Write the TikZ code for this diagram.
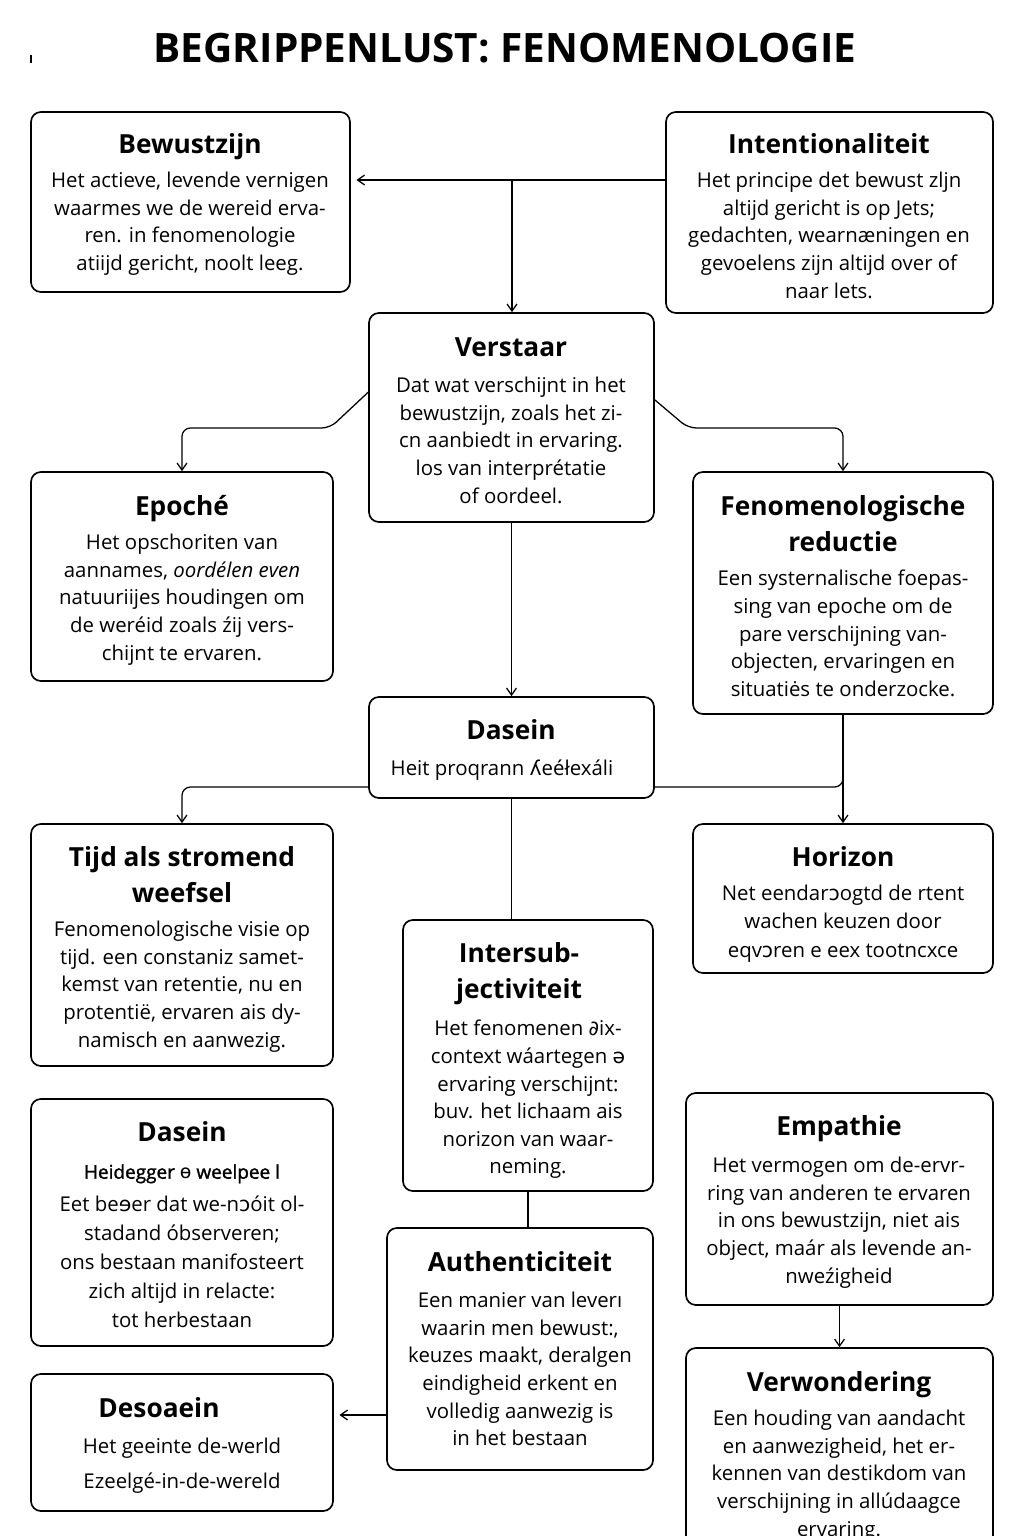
\documentclass[tikz,border=0pt]{standalone}
\usepackage{fontspec}
\setmainfont{Open Sans}
\newfontfamily\dvfont{DejaVu Sans}
\newcommand\dvg[1]{{\dvfont #1}}
\newfontfamily\semifont[FakeBold=1.5]{Open Sans}
\usetikzlibrary{arrows.meta,fit,calc}
\begin{document}
\begin{tikzpicture}[x=0.025cm,y=-0.025cm,
  box/.style={draw, line width=1.2pt, rounded corners=7pt, inner sep=0pt},
  ttl/.style={anchor=north, font=\fontsize{18.7}{25.6}\selectfont\bfseries, align=center, inner sep=0pt},
  bod/.style={anchor=north, font=\fontsize{14.5}{19.6}\selectfont, align=center, inner sep=0pt},
  conn/.style={line width=0.9pt},
  arr/.style={conn, -{Straight Barb[length=5pt,width=7pt]}}]
\useasboundingbox (0,0) rectangle (1024,1536);
\fill[white] (0,0) rectangle (1024,1536);
\draw[line width=0.8pt] (31,55) -- (31,63);
\node[font=\fontsize{28.8}{32}\selectfont\bfseries, anchor=base, inner sep=0pt] (title) at (505,63) {BEGRIPPENLUST: FENOMENOLOGIE};

% boxes
\node[box, fit={(31,112) (350,292)}] (bew) {};
\node[box, fit={(666,112) (993,313)}] (int) {};
\node[box, fit={(369,313) (654,522)}] (ver) {};
\node[box, fit={(31,472) (333,681)}] (epo) {};
\node[box, fit={(693,472) (993,714)}] (fen) {};
\node[box, fit={(369,697) (654,798)}] (das) {};
\node[box, fit={(31,824) (333,1066)}] (tij) {};
\node[box, fit={(693,824) (993,973)}] (hor) {};
\node[box, fit={(403,920) (653,1191)}] (isj) {};
\node[box, fit={(31,1099) (333,1346)}] (dsl) {};
\node[box, fit={(31,1374) (333,1511)}] (des) {};
\node[box, fit={(387,1228) (653,1470)}] (aut) {};
\node[box, fit={(686,1093) (993,1305)}] (emp) {};
\node[box, fit={(686,1348) (993,1560)}] (vw) {};

% texts
\node[ttl] (bewT) at (190,133) {Bewustzijn};
\node[bod] (bewB) at (190,172) {Het actieve, levende vernigen\\waarmes we de wereid erva-\\ren. in fenomenologie\\atiijd gericht, noolt leeg.};

\node[ttl] (intT) at (829,133) {Intentionaliteit};
\node[bod] (intB) at (829,172) {Het principe det bewust zljn\\altijd gericht is op Jets;\\gedachten, wearnæningen en\\gevoelens zijn altijd over of\\naar lets.};

\node[ttl] (verT) at (511,337) {Verstaar};
\node[bod] (verB) at (511,377) {Dat wat verschijnt in het\\bewustzijn, zoals het zi-\\cn aanbiedt in ervaring.\\los van interprétatie\\of oordeel.};

\node[ttl] (epoT) at (182,495) {Epoché};
\node[bod] (epoB) at (182,534) {Het opschoriten van\\aannames, \textit{oordélen even}\\natuuriijes houdingen om\\de weréid zoals źij vers-\\chijnt te ervaren.};

\node[ttl] (fenT) at (843,495) {Fenomenologische\\reductie};
\node[bod] (fenB) at (843,570) {Een systernalische foepas-\\sing van epoche om de\\pare verschijning van-\\objecten, ervaringen en\\situatiės te onderzocke.};

\node[ttl] (dasT) at (511,719) {Dasein};
\node[bod] (dasB) at (502,760) {Heit proqrann \dvg{ʎ}eéłexáli};

\node[ttl] (tijT) at (182,846) {Tijd als stromend\\weefsel};
\node[bod] (tijB) at (182,921) {Fenomenologische visie op\\tijd. een constaniz samet-\\kemst van retentie, nu en\\protentië, ervaren ais dy-\\namisch en aanwezig.};

\node[ttl] (horT) at (843,846) {Horizon};
\node[bod, font=\fontsize{14.5}{20}\selectfont] (horB) at (843,885) {Net eendar\dvg{ɔ}ogtd de rtent\\wachen keuzen door\\eqv\dvg{ɔ}ren e eex tootncxce};

\node[ttl] (isjT) at (519,942) {Intersub-\\jectiviteit};
\node[bod] (isjB) at (528,1020) {Het fenomenen \dvg{∂}ix-\\context wáartegen \dvg{ə}\\ervaring verschijnt:\\buv. het lichaam ais\\norizon van waar-\\neming.};

\node[ttl] (dslT) at (182,1121) {Dasein};
\node[anchor=north, inner sep=0pt, font=\semifont\fontsize{13.5}{16}\selectfont] (dslS) at (182,1164) {Heidegger \dvg{ɵ} weelpee l};
\node[bod, font=\fontsize{14.5}{20.6}\selectfont] (dslB) at (182,1196) {Eet be\dvg{ɘ}er dat we-n\dvg{ɔ}óit ol-\\stadand óbserveren;\\ons bestaan manifosteert\\zich altijd in relacte:\\tot herbestaan};

\node[ttl] (desT) at (159,1397) {Desoaein};
\node[bod, font=\fontsize{14.5}{24.9}\selectfont] (desB) at (182,1438) {Het geeinte de-werld\\Ezeelgé-in-de-wereld};

\node[ttl] (autT) at (520,1251) {Authenticiteit};
\node[bod] (autB) at (520,1292) {Een manier van leverı\\waarin men bewust:,\\keuzes maakt, deralgen\\eindigheid erkent en\\volledig aanwezig is\\in het bestaan};

\node[ttl] (empT) at (839,1115) {Empathie};
\node[bod] (empB) at (839,1157) {Het vermogen om de-ervr-\\ring van anderen te ervaren\\in ons bewustzijn, niet ais\\object, maár als levende an-\\nweźigheid};

\node[ttl] (vwT) at (839,1371) {Verwondering};
\node[bod] (vwB) at (839,1410) {Een houding van aandacht\\en aanwezigheid, het er-\\kennen van destikdom van\\verschijning in allúdaagce\\ervaring.};

% connectors
\coordinate (j1) at (512,180);
\draw[conn] (int.west |- j1) -- (j1);
\draw[arr, shorten >=4pt] (j1) -- (bew.east |- j1);
\draw[arr] (j1) -- (j1 |- ver.north);
\coordinate (vl) at (330,428);
\draw[arr, rounded corners=6pt] (ver.170) -- (vl) -| (epo.north);
\coordinate (vr) at (688,428);
\draw[arr, rounded corners=6pt] (ver.7) -- (vr) -| (fen.north);
\draw[arr] (ver.south) -- (das.north);
\coordinate (dl) at (181,787);
\draw[arr, rounded corners=6pt] (das.west |- dl) -| (tij.north);
\coordinate (dr) at (843,787);
\draw[conn, rounded corners=6pt] (das.east |- dr) -| (fen.south);
\draw[arr] (fen.south) -- (hor.north);
\draw[conn] (das.south) -- (das.south |- isj.north);
\draw[conn] (isj.south) -- (isj.south |- aut.north);
\coordinate (al) at (338,1415);
\draw[arr, shorten >=4pt] (aut.west |- al) -- (des.east |- al);
\draw[arr] (emp.south) -- (emp.south |- vw.north);
\end{tikzpicture}
\end{document}
